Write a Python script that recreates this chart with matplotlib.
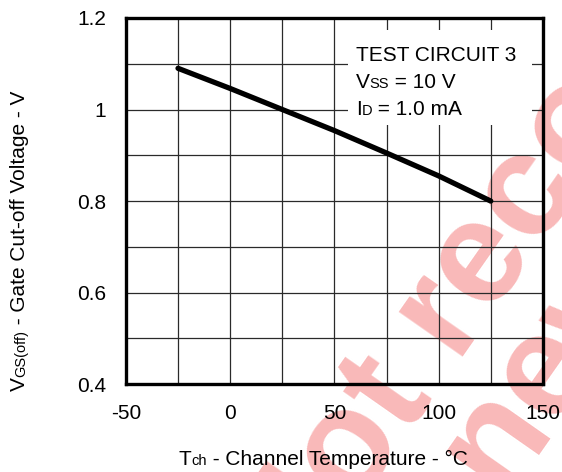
import matplotlib
matplotlib.use("Agg")
import matplotlib.pyplot as plt
from matplotlib.patches import Rectangle

# channel temperature (deg C) vs gate cut-off voltage (V)
tch = [-25, 0, 25, 50, 75, 100, 125]
vgs_off = [1.09, 1.046, 1.0, 0.954, 0.905, 0.855, 0.80]

x_ticks = [-50, 0, 50, 100, 150]
y_ticks = [0.4, 0.6, 0.8, 1.0, 1.2]
y_tick_labels = ["0.4", "0.6", "0.8", "1", "1.2"]

plt.rcParams["font.family"] = ["Liberation Sans", "DejaVu Sans"]
plt.rcParams["axes.unicode_minus"] = False

FS = 15
SUB = 10.5

fig = plt.figure(figsize=(5.62, 4.72), dpi=100)
ax = fig.add_axes([0.224, 0.186, 0.742, 0.776])
ax.set_facecolor("none")

# watermark behind everything
wm = dict(color="#f9b9b9", fontsize=105, fontweight="bold", rotation=55,
          rotation_mode="anchor", ha="left", va="baseline", zorder=-5)
fig.text(0.525, -0.262, "Not recommended", **wm)
fig.text(0.660, -0.475, "for new design", **wm)

ax.plot(tch, vgs_off, color="black", lw=3.8, solid_capstyle="round", zorder=4)

ax.set_xlim(-50, 150)
ax.set_ylim(0.4, 1.2)
ax.set_xticks(x_ticks)
ax.set_yticks(y_ticks)
ax.set_yticklabels(y_tick_labels)
ax.set_xticks(range(-25, 150, 25), minor=True)
ax.set_yticks([0.5, 0.7, 0.9, 1.1], minor=True)
ax.tick_params(which="both", length=0, labelsize=FS, pad=14)
ax.set_axisbelow(True)
ax.grid(which="both", color="#2a2a2a", lw=0.9)
for s in ax.spines.values():
    s.set_linewidth(2.4)
    s.set_zorder(6)

# white box behind the annotation text
ax.add_patch(Rectangle((0.532, 0.708), 0.442, 0.259, transform=ax.transAxes,
                       facecolor="white", edgecolor="none", zorder=3))


def run(x, y, pieces, trans, rot=0):
    """Write text pieces one after another on a shared baseline."""
    first = fig.text(x, y, pieces[0][0], fontsize=pieces[0][1],
                     transform=trans, rotation=rot, rotation_mode="anchor",
                     ha="left", va="baseline", zorder=5)
    prev = first
    for txt, size in pieces[1:]:
        if rot == 0:
            xy, coords = (1, y), (prev, trans)
        else:
            xy, coords = (x, 1), (trans, prev)
        prev = fig.add_artist(matplotlib.text.Annotation(
            txt, xy=xy, xycoords=coords, fontsize=size, rotation=rot,
            rotation_mode="anchor", ha="left", va="baseline",
            annotation_clip=False, zorder=5))
    return first


run(0.551, 0.883, [("TEST CIRCUIT 3", FS)], ax.transAxes)
run(0.551, 0.809, [("V", FS), ("SS", SUB), (" = 10 V", FS)], ax.transAxes)
run(0.551, 0.735, [("I", FS), ("D", SUB), (" = 1.0 mA", FS)], ax.transAxes)

# axis labels
run(179 / 562, 1 - 465 / 472,
    [("T", FS), ("ch", SUB), (" - Channel Temperature - \u00b0C", FS)],
    fig.transFigure)
run(25 / 562, 1 - 391 / 472,
    [("V", FS), ("GS(off)", SUB), (" - Gate Cut-off Voltage - V", FS)],
    fig.transFigure, rot=90)

fig.savefig("out.png", dpi=100)
